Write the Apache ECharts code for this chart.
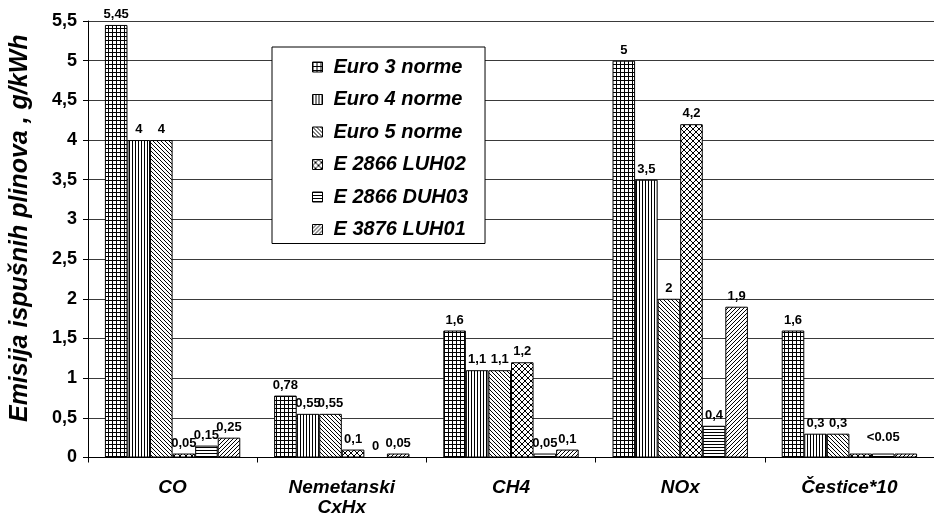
<!DOCTYPE html>
<html><head><meta charset="utf-8">
<script src="https://cdn.jsdelivr.net/npm/echarts@6/dist/echarts.min.js"></script>
<style>html,body{margin:0;padding:0;background:#fff}#c{width:934px;height:522px}</style>
</head><body><div id="c"></div>
<script>
const categories = ['CO', 'Nemetanski\nCxHx', 'CH4', 'NOx', 'Čestice*10'];
const seriesNames = ['Euro 3 norme', 'Euro 4 norme', 'Euro 5 norme', 'E 2866 LUH02', 'E 2866 DUH03', 'E 3876 LUH01'];
const euro3 = [5.45, 0.78, 1.6, 5, 1.6];
const euro4 = [4, 0.55, 1.1, 3.5, 0.3];
const euro5 = [4, 0.55, 1.1, 2, 0.3];
const luh02 = [0.05, 0.1, 1.2, 4.2, 0.05];
const duh03 = [0.15, 0, 0.05, 0.4, 0.05];
const luh01 = [0.25, 0.05, 0.1, 1.9, 0.05];
// label overrides for the last category (null = hide, string = custom text)
const cesticeLabels = ['1,6', '0,3', '0,3', null, '<0.05', null];
const yTicks = [0, 0.5, 1, 1.5, 2, 2.5, 3, 3.5, 4, 4.5, 5, 5.5];

const FONT = "'Liberation Sans', Arial, sans-serif";
function mk(w, h, draw) {
  const c = document.createElement('canvas'); c.width = w; c.height = h;
  const g = c.getContext('2d'); g.fillStyle = '#fff'; g.fillRect(0, 0, w, h);
  g.fillStyle = '#000'; draw(g, w, h);
  return { image: c, repeat: 'repeat' };
}
const patterns = [
  mk(4, 4, g => { g.fillRect(0, 0, 4, 1); g.fillRect(0, 0, 1, 4); }),
  mk(3, 1, g => { g.fillRect(0, 0, 1, 1); }),
  mk(4, 4, g => { for (let i = 0; i < 4; i++) g.fillRect(i, i, 1, 1); }),
  mk(6, 6, g => { for (let i = 0; i < 6; i++) { g.fillRect(i, i, 1, 1); g.fillRect(5 - i, i, 1, 1); } }),
  mk(1, 3, g => { g.fillRect(0, 0, 1, 1); }),
  mk(4, 4, g => { for (let i = 0; i < 4; i++) g.fillRect(3 - i, i, 1, 1); })
];
const allData = [euro3, euro4, euro5, luh02, duh03, luh01];
const fmt = v => String(v).replace('.', ',');

const series = allData.map((arr, si) => ({
  name: seriesNames[si],
  type: 'bar',
  barGap: '0%',
  barCategoryGap: '20%',
  itemStyle: { color: patterns[si], borderColor: '#000', borderWidth: 1 },
  label: {
    show: true, position: 'top', distance: 4,
    fontFamily: FONT, fontWeight: 'bold', fontSize: 13, color: '#000'
  },
  data: arr.map((v, ci) => {
    const d = { value: v };
    if (ci === categories.length - 1) {
      const l = cesticeLabels[si];
      if (l === null) d.label = { show: false };
      else d.label = { formatter: l, offset: l.startsWith('<') ? [0, -6] : [0, 0] };
    } else {
      d.label = { formatter: fmt(v) };
    }
    return d;
  })
}));

const chart = echarts.init(document.getElementById('c'));
chart.setOption({
  animation: false,
  backgroundColor: '#fff',
  grid: { left: 86, right: -7.5, top: 21, bottom: 64.5 },
  legend: {
    orient: 'vertical', left: 272, top: 47,
    data: seriesNames,
    icon: 'rect', itemWidth: 10, itemHeight: 10, itemGap: 12.5,
    padding: [10, 17, 4, 40],
    backgroundColor: '#fff', borderColor: '#000', borderWidth: 1,
    textStyle: { fontFamily: FONT, fontWeight: 'bold', fontStyle: 'italic', fontSize: 20, color: '#000', padding: [0, 0, 0, 6] },
    itemStyle: { borderColor: '#000', borderWidth: 1 }
  },
  xAxis: {
    type: 'category', data: categories,
    axisLine: { lineStyle: { color: '#000', width: 1 } },
    axisTick: { show: true, length: 5, lineStyle: { color: '#000' } },
    axisLabel: { margin: 20, fontFamily: FONT, fontWeight: 'bold', fontStyle: 'italic', fontSize: 19, lineHeight: 20, color: '#000' }
  },
  yAxis: {
    type: 'value', min: 0, max: 5.5, interval: 0.5,
    name: 'Emisija ispušnih plinova , g/kWh',
    nameLocation: 'middle', nameGap: 55,
    nameTextStyle: { fontFamily: FONT, fontWeight: 'bold', fontStyle: 'italic', fontSize: 25, color: '#000', padding: [0, 0, 0, 22] },
    axisLine: { show: true, lineStyle: { color: '#000' } },
    axisTick: { show: true, length: 5, lineStyle: { color: '#000' } },
    axisLabel: { margin: 11, fontFamily: FONT, fontWeight: 'bold', fontSize: 18, color: '#000',
      formatter: v => { const t = yTicks.find(x => Math.abs(x - v) < 1e-9); return fmt(t !== undefined ? t : v); } },
    splitLine: { show: true, lineStyle: { color: '#3a3a3a', width: 1 } }
  },
  series: series
});
</script></body></html>
